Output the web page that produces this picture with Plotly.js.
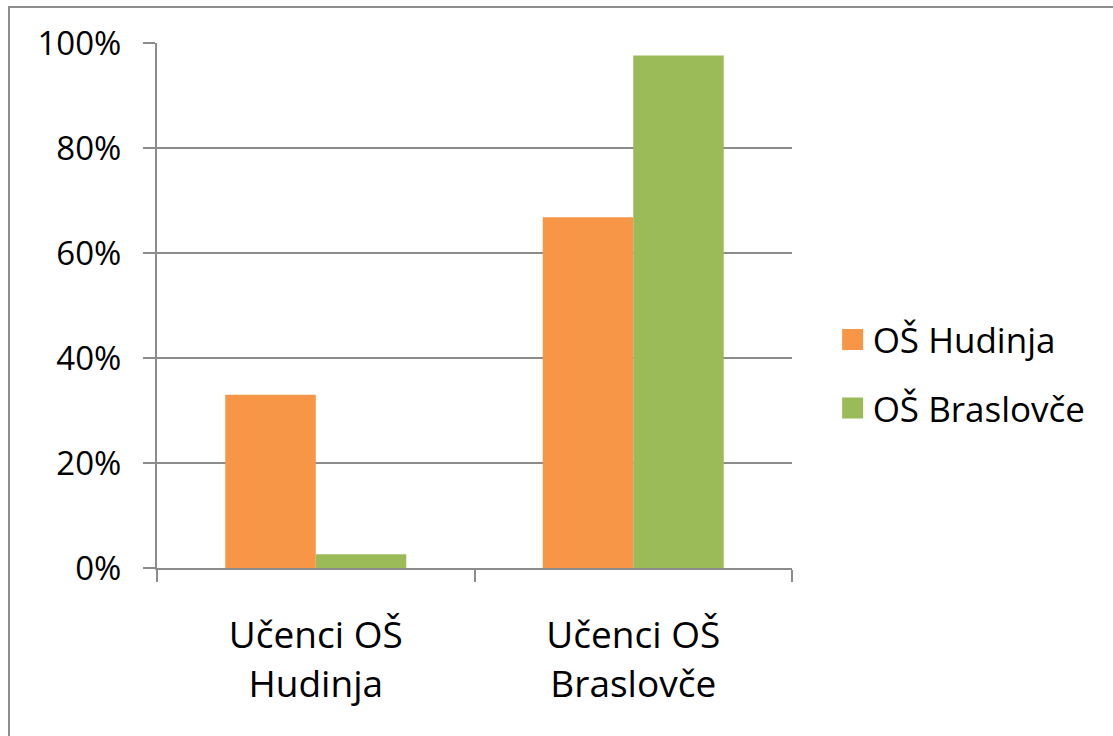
<!DOCTYPE html>
<html>
<head>
<meta charset="utf-8">
<script src="https://cdn.plot.ly/plotly-3.0.1.min.js"></script>
<style>
  html, body { margin: 0; padding: 0; overflow: hidden; background: #fff; }
  #frame { position: absolute; left: 8px; top: 6px; width: 1200px; height: 800px;
           border-left: 2px solid #8e8e8e; border-top: 2px solid #8e8e8e; pointer-events: none; z-index: 5; }
  #chart { position: absolute; left: 0; top: 0; width: 1113px; height: 736px; }
</style>
</head>
<body>
<div id="chart"></div>
<div id="frame"></div>
<script>
// Data
const categories = ["Učenci OŠ<br>Hudinja", "Učenci OŠ<br>Braslovče"];
const seriesNames = ["OŠ Hudinja", "OŠ Braslovče"];
const hudinjaValues = [0.33, 0.668];
const braslovceValues = [0.026, 0.976];
const yTickVals = [0, 0.2, 0.4, 0.6, 0.8, 1.0];
const yTickText = ["0%", "20%", "40%", "60%", "80%", "100%"];

const colors = ["#F79646", "#9BBB59"];
const gridColor = "#8c8c8c";
const fontFamily = "'Open Sans', 'Noto Sans', sans-serif";

const traces = [
  { type: "bar", x: categories, y: hudinjaValues, name: seriesNames[0],
    marker: { color: colors[0] }, showlegend: false, hoverinfo: "skip" },
  { type: "bar", x: categories, y: braslovceValues, name: seriesNames[1],
    marker: { color: colors[1] }, showlegend: false, hoverinfo: "skip" },
  // legend-only entries (large square swatches)
  { type: "scatter", mode: "markers", x: [null], y: [null], name: seriesNames[0],
    legendgroup: "a", marker: { symbol: "square", size: 16, color: colors[0],
    line: { color: colors[0], width: 5 } } },
  { type: "scatter", mode: "markers", x: [null], y: [null], name: seriesNames[1],
    legendgroup: "b", marker: { symbol: "square", size: 16, color: colors[1],
    line: { color: colors[1], width: 5 } } }
];

const layout = {
  width: 1113, height: 736,
  margin: { l: 157, r: 321, t: 43, b: 167.5, pad: 0 },
  paper_bgcolor: "#ffffff", plot_bgcolor: "#ffffff",
  font: { family: fontFamily, size: 32, color: "#000000" },
  barmode: "group",
  bargap: 0.43, bargroupgap: 0,
  showlegend: true,
  legend: { x: 1.064, xanchor: "left", y: 0.37, yanchor: "middle",
            font: { family: fontFamily, size: 35, color: "#000" },
            traceorder: "grouped", tracegroupgap: 20, itemsizing: "trace",
            bgcolor: "rgba(0,0,0,0)" },
  xaxis: {
    type: "category", categoryorder: "array", categoryarray: categories,
    showline: true, linecolor: gridColor, linewidth: 2,
    ticks: "outside", tickson: "boundaries", ticklen: 12, tickwidth: 2, tickcolor: gridColor,
    showgrid: false, zeroline: false,
    tickfont: { family: fontFamily, size: 37, color: "#000" },
    ticklabelstandoff: 34
  },
  yaxis: {
    range: [0, 1],
    tickvals: yTickVals, ticktext: yTickText,
    showline: true, linecolor: gridColor, linewidth: 2,
    ticks: "outside", ticklen: 12, tickwidth: 2, tickcolor: gridColor,
    showgrid: true, gridcolor: gridColor, gridwidth: 2,
    zeroline: false,
    tickfont: { family: fontFamily, size: 33, color: "#000" },
    ticklabelstandoff: 15
  }
};

Plotly.newPlot("chart", traces, layout, { displayModeBar: false, staticPlot: true });
</script>
</body>
</html>
